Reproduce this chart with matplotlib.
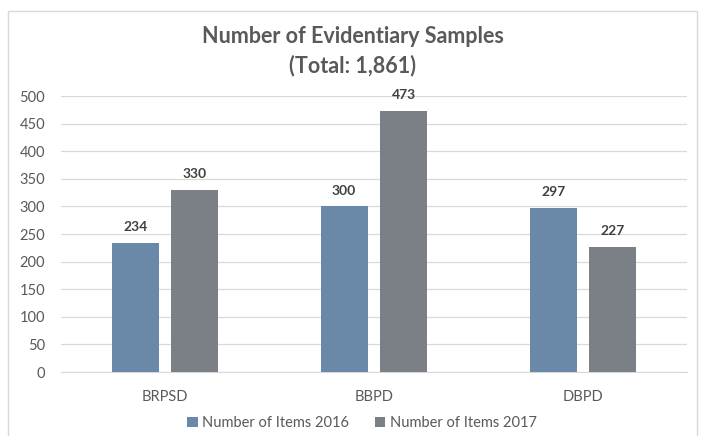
import matplotlib
matplotlib.use("Agg")
import matplotlib.pyplot as plt
from matplotlib.patches import Rectangle
import numpy as np

categories = ["BRPSD", "BBPD", "DBPD"]
series_names = ["Number of Items 2016", "Number of Items 2017"]
values_2016 = [234, 300, 297]
values_2017 = [330, 473, 227]
yticks = [0, 50, 100, 150, 200, 250, 300, 350, 400, 450, 500]

colors = ["#6A89A8", "#7B7F86"]
text_col = "#595959"

plt.rcParams['font.family'] = ['Lato', 'DejaVu Sans']

fig = plt.figure(figsize=(7.05, 4.36), dpi=100)
fig.patches.append(Rectangle((8/705, -0.05), 689/705, 1.05 - 11/436,
                             transform=fig.transFigure, fill=False,
                             edgecolor="#D9D9D9", linewidth=1.0))
ax = fig.add_axes([60.5/705, (436-372)/436, 627/705, 276/436])

x = np.arange(len(categories))
w = 0.224
off = 0.143
b1 = ax.bar(x - off, values_2016, w, color=colors[0], label=series_names[0], zorder=3)
b2 = ax.bar(x + off, values_2017, w, color=colors[1], label=series_names[1], zorder=3)

for bars, vals in ((b1, values_2016), (b2, values_2017)):
    for r, v in zip(bars, vals):
        ax.annotate(str(v), (r.get_x() + r.get_width()/2, v), xytext=(0, 7),
                    textcoords="offset points", ha="center", va="bottom",
                    fontsize=10, fontweight="bold", color="#404040")

ax.set_xlim(-0.5, 2.5)
ax.set_ylim(0, 500)
ax.set_yticks(yticks)
ax.set_yticklabels([str(t) for t in yticks])
ax.set_xticks(x)
ax.set_xticklabels(categories)
ax.yaxis.grid(True, color="#D9D9D9", linewidth=0.9, zorder=0)
ax.set_axisbelow(True)
for s in ["top", "right", "left"]:
    ax.spines[s].set_visible(False)
ax.spines["bottom"].set_color("#D9D9D9")
ax.tick_params(axis="both", length=0, labelsize=10.5, colors=text_col)
ax.tick_params(axis="y", pad=11)
ax.tick_params(axis="x", pad=13)

fig.text(0.5, (436-51)/436, "Number of Evidentiary Samples\n(Total: 1,861)",
         ha="center", va="center", fontsize=15.5, fontweight="bold",
         color=text_col, linespacing=1.45)

leg = fig.legend(handles=[b1, b2], labels=series_names, loc="center",
                 bbox_to_anchor=(362/705, (436-423)/436), ncol=2, frameon=False,
                 fontsize=10.5, handlelength=0.7, handleheight=0.7,
                 handletextpad=0.3, columnspacing=1.8)
for t in leg.get_texts():
    t.set_color(text_col)

fig.savefig("out.png", dpi=100)
